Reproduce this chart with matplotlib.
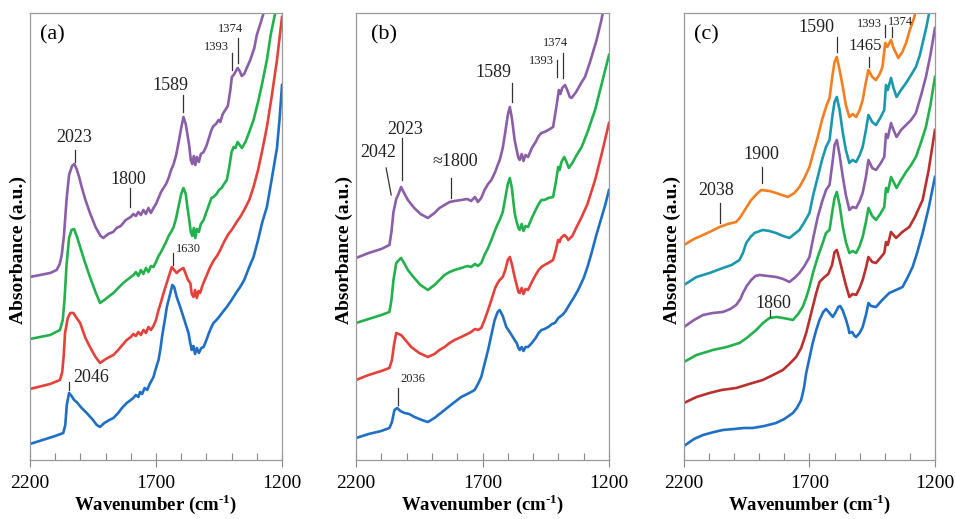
import numpy as np
import matplotlib
matplotlib.use("Agg")
import matplotlib.pyplot as plt

plt.rcParams['font.family'] = ['Liberation Serif', 'DejaVu Serif']
plt.rcParams['mathtext.fontset'] = 'custom'
plt.rcParams['mathtext.rm'] = 'Liberation Serif'
plt.rcParams['mathtext.bf'] = 'Liberation Serif:bold'

# colours
BLUE = '#1f6fc5'
RED = '#e5413b'
GREEN = '#22b14c'
PURPLE = '#8b5ea8'
ORANGE = '#f47f20'
TEAL = '#1b98ad'
DARKRED = '#b8312f'

# ---- panel (a) : (wavenumber, absorbance a.u.)
a_blue = [(2200,16),(2150,20),(2100,24),(2068,27),(2060,35),(2054,55),(2045,67),(2035,64),(2025,60),(2015,58),
          (1995,52),(1975,47),(1950,40),(1935,35),(1922,33),(1905,37),(1885,40),(1869,42),(1850,47),(1835,52),
          (1816,57),(1800,60),(1790,62),(1780,65),(1770,63),(1763,68),(1755,66),(1745,72),(1735,70),(1725,76),
          (1710,83),(1700,92),(1690,100),(1683,110),(1675,125),(1665,140),(1657,153),(1645,165),(1635,175),
          (1628,173),(1618,163),(1604,153),(1590,142),(1580,134),(1571,127),(1565,118),(1558,110),(1552,114),
          (1545,106),(1538,112),(1530,107),(1520,112),(1511,113),(1500,120),(1490,127),(1480,133),(1472,137),
          (1460,140),(1450,143),(1435,148),(1419,153),(1400,160),(1380,168),(1366,173),(1350,180),(1330,193),
          (1313,203),(1295,220),(1278,238),(1260,253),(1240,282),(1220,312),(1210,340),(1200,375)]
a_red = [(2200,71),(2120,76),(2081,80),(2072,88),(2066,105),(2061,127),(2050,142),(2040,147),(2028,147),(2015,142),
         (2001,137),(1980,122),(1962,113),(1940,103),(1922,97),(1905,100),(1885,103),(1869,105),(1850,110),
         (1830,116),(1816,120),(1800,123),(1790,126),(1780,124),(1770,128),(1760,125),(1750,130),(1740,127),
         (1730,133),(1720,130),(1710,134),(1700,140),(1690,150),(1680,158),(1670,167),(1660,175),(1650,183),
         (1637,193),(1628,190),(1618,187),(1605,190),(1591,192),(1582,186),(1573,180),(1564,177),(1558,166),
         (1551,163),(1545,170),(1538,162),(1531,169),(1525,167),(1515,175),(1500,184),(1485,193),(1470,200),
         (1458,204),(1445,210),(1430,218),(1415,225),(1400,230),(1392,233),(1380,238),(1366,243),(1350,250),
         (1330,260),(1313,273),(1295,290),(1278,310),(1260,333),(1240,365),(1220,400),(1200,443)]
a_green = [(2200,121),(2120,125),(2081,130),(2070,140),(2063,160),(2055,195),(2045,222),(2035,230),(2025,231),
           (2012,222),(2001,213),(1985,200),(1962,183),(1940,168),(1922,157),(1905,160),(1885,164),(1869,167),
           (1850,172),(1830,177),(1810,181),(1789,185),(1780,188),(1770,184),(1760,190),(1750,186),(1740,192),
           (1730,188),(1720,194),(1710,193),(1700,198),(1690,204),(1680,208),(1670,213),(1660,218),(1650,224),
           (1640,228),(1630,233),(1620,242),(1611,253),(1600,266),(1591,272),(1582,266),(1575,252),(1568,240),
           (1562,228),(1556,224),(1550,232),(1544,222),(1538,231),(1530,228),(1522,236),(1511,240),(1500,248),
           (1490,255),(1480,262),(1472,263),(1460,266),(1450,270),(1440,272),(1430,276),(1419,280),(1410,292),
           (1400,308),(1392,313),(1385,312),(1376,318),(1368,315),(1359,312),(1345,318),(1330,328),(1313,340),
           (1295,358),(1280,375),(1260,400),(1245,425),(1227,447),(1220,460)]
a_purple = [(2200,183),(2120,187),(2094,190),(2082,196),(2074,205),(2065,225),(2055,260),(2045,285),(2033,294),
            (2024,296),(2015,291),(2005,283),(1995,273),(1980,260),(1962,247),(1940,233),(1920,224),(1909,222),
            (1890,226),(1870,228),(1856,232),(1840,234),(1820,240),(1800,243),(1790,246),(1780,244),(1770,248),
            (1760,245),(1750,250),(1740,246),(1730,252),(1720,247),(1710,252),(1700,256),(1690,262),(1680,268),
            (1670,272),(1660,276),(1650,282),(1640,290),(1630,296),(1620,305),(1610,318),(1600,332),(1591,343),
            (1582,336),(1575,325),(1568,314),(1562,300),(1556,296),(1550,304),(1544,295),(1538,303),(1530,298),
            (1522,306),(1511,308),(1500,314),(1490,322),(1480,330),(1472,334),(1462,336),(1452,340),(1445,338),
            (1435,346),(1425,350),(1415,354),(1405,370),(1399,383),(1392,385),(1385,388),(1376,392),(1368,389),
            (1360,384),(1350,386),(1340,392),(1326,400),(1310,412),(1300,425),(1285,437),(1273,447),(1265,460)]

# ---- panel (b)
b_blue = [(2200,22),(2150,26),(2100,29),(2068,32),(2058,38),(2048,50),(2037,52),(2025,49),(2008,47),(1990,46),
          (1969,43),(1940,40),(1916,38),(1890,42),(1870,46),(1850,50),(1830,54),(1810,58),(1784,63),(1760,66),
          (1745,68),(1731,70),(1718,76),(1705,83),(1692,96),(1678,110),(1665,125),(1652,140),(1640,148),(1632,150),
          (1620,144),(1606,133),(1590,127),(1573,120),(1565,117),(1558,112),(1553,110),(1545,113),(1538,109),
          (1530,113),(1520,113),(1505,117),(1490,122),(1478,127),(1467,130),(1455,131),(1440,133),(1425,136),
          (1414,137),(1400,142),(1385,145),(1374,148),(1355,156),(1340,162),(1322,170),(1300,182),(1285,193),
          (1269,207),(1250,225),(1229,243),(1215,255),(1200,270)]
b_red = [(2200,80),(2150,85),(2100,89),(2068,92),(2058,100),(2050,115),(2041,127),(2032,126),(2022,125),(2005,120),
         (1982,113),(1950,107),(1916,103),(1890,106),(1870,110),(1850,113),(1830,117),(1810,120),(1784,123),
         (1760,126),(1745,128),(1730,131),(1718,130),(1705,132),(1692,140),(1678,150),(1665,160),(1650,172),
         (1640,177),(1632,180),(1620,183),(1610,190),(1600,200),(1592,203),(1584,196),(1573,183),(1565,175),
         (1558,168),(1553,167),(1545,172),(1538,166),(1530,171),(1520,170),(1505,178),(1490,185),(1478,190),
         (1467,193),(1455,195),(1440,197),(1421,200),(1410,210),(1401,220),(1395,218),(1390,222),(1377,225),
         (1368,223),(1361,220),(1345,224),(1330,232),(1308,243),(1285,256),(1255,280),(1230,305),(1200,337)]
b_green = [(2200,137),(2150,141),(2100,145),(2068,148),(2060,160),(2052,180),(2041,197),(2030,200),(2022,202),
           (2010,197),(1995,190),(1970,182),(1945,175),(1916,170),(1890,175),(1870,180),(1850,185),(1830,188),
           (1810,190),(1784,192),(1760,194),(1745,193),(1730,196),(1718,194),(1705,197),(1692,205),(1678,212),
           (1665,220),(1650,230),(1640,236),(1632,240),(1620,248),(1610,262),(1600,276),(1592,282),(1584,272),
           (1573,247),(1565,238),(1558,232),(1553,230),(1545,236),(1538,229),(1530,234),(1520,233),(1505,242),
           (1490,250),(1478,256),(1467,260),(1455,260),(1440,262),(1421,263),(1410,278),(1401,293),(1395,290),
           (1388,298),(1377,303),(1368,298),(1359,292),(1345,297),(1330,304),(1308,313),(1285,328),(1255,350),
           (1230,375),(1200,405)]
b_purple = [(2200,202),(2150,207),(2100,211),(2068,215),(2060,228),(2052,248),(2041,261),(2032,266),(2022,273),
            (2010,267),(1995,260),(1970,252),(1945,246),(1916,242),(1890,247),(1870,252),(1850,255),(1830,258),
            (1810,259),(1784,260),(1760,261),(1745,259),(1730,263),(1718,258),(1705,262),(1692,270),(1678,276),
            (1665,280),(1650,288),(1640,295),(1632,300),(1620,312),(1610,328),(1600,345),(1592,353),(1584,342),
            (1573,320),(1565,310),(1558,302),(1553,300),(1545,306),(1538,299),(1530,305),(1520,303),(1505,312),
            (1490,318),(1478,324),(1467,327),(1455,328),(1440,330),(1421,333),(1410,350),(1398,370),(1392,366),
            (1385,372),(1374,375),(1365,370),(1355,363),(1348,362),(1330,368),(1310,377),(1295,383),(1275,398),
            (1249,420),(1230,440),(1215,460)]

# ---- panel (c)
c_blue = [(2200,14),(2160,21),(2124,25),(2080,28),(2045,30),(2000,31),(1960,32),(1925,32),(1880,34),(1833,37),
          (1800,41),(1766,47),(1750,52),(1733,60),(1722,72),(1713,87),(1700,102),(1687,117),(1673,130),(1660,140),
          (1645,148),(1634,151),(1620,147),(1607,143),(1595,148),(1585,153),(1578,154),(1568,150),(1554,140),
          (1545,132),(1541,127),(1530,128),(1520,124),(1514,123),(1500,127),(1488,133),(1475,145),(1465,157),
          (1455,154),(1435,153),(1410,160),(1382,167),(1355,170),(1329,173),(1310,182),(1289,193),(1270,208),
          (1249,227),(1225,252),(1200,283)]
c_darkred = [(2200,57),(2150,63),(2098,67),(2050,70),(1992,72),(1940,76),(1886,80),(1845,85),(1806,90),(1780,96),
             (1753,103),(1733,112),(1713,127),(1700,140),(1690,150),(1673,167),(1660,178),(1640,183),(1625,186),
             (1610,195),(1600,208),(1591,210),(1580,200),(1567,187),(1555,175),(1541,163),(1528,166),(1514,165),
             (1500,172),(1488,180),(1475,192),(1465,203),(1450,198),(1435,197),(1418,202),(1402,207),(1395,218),
             (1388,215),(1375,228),(1365,225),(1355,222),(1330,228),(1302,233),(1280,243),(1249,260),(1225,290),
             (1200,330)]
c_green = [(2200,98),(2150,105),(2085,110),(2030,113),(1979,117),(1950,122),(1912,130),(1885,137),(1859,142),
           (1830,143),(1806,142),(1785,141),(1766,140),(1745,146),(1727,153),(1712,163),(1700,173),(1685,188),
           (1667,203),(1650,215),(1634,227),(1620,230),(1608,250),(1600,262),(1591,268),(1580,255),(1567,233),
           (1555,218),(1541,207),(1528,209),(1514,207),(1500,214),(1488,223),(1475,238),(1465,252),(1450,244),
           (1435,240),(1418,246),(1402,253),(1395,272),(1388,268),(1375,283),(1365,278),(1353,272),(1335,280),
           (1315,288),(1295,295),(1276,303),(1255,318),(1236,333),(1218,355),(1200,383)]
c_purple = [(2200,133),(2160,140),(2124,145),(2085,147),(2045,148),(2015,151),(1992,155),(1975,161),(1965,167),
            (1950,174),(1932,180),(1915,184),(1899,185),(1866,184),(1833,183),(1805,181),(1780,178),(1760,182),
            (1740,187),(1720,194),(1700,203),(1685,222),(1667,243),(1650,258),(1634,270),(1620,275),(1608,298),
            (1600,315),(1591,320),(1580,305),(1567,283),(1555,265),(1541,250),(1528,253),(1514,252),(1500,259),
            (1488,267),(1475,283),(1465,300),(1450,292),(1435,290),(1418,296),(1402,303),(1395,326),(1388,322),
            (1375,337),(1365,330),(1353,323),(1335,330),(1315,335),(1295,340),(1276,347),(1255,365),(1236,383),
            (1218,405),(1200,432)]
c_teal = [(2200,175),(2150,183),(2098,187),(2045,192),(2010,195),(1979,200),(1965,207),(1952,217),(1935,223),
          (1919,227),(1886,230),(1860,229),(1833,227),(1805,224),(1780,222),(1760,226),(1740,230),(1720,238),
          (1700,247),(1685,265),(1667,283),(1650,300),(1634,313),(1620,320),(1608,345),(1600,358),(1591,363),
          (1580,350),(1567,327),(1555,310),(1541,297),(1528,300),(1514,298),(1500,305),(1488,313),(1475,330),
          (1465,345),(1450,338),(1435,335),(1418,342),(1402,350),(1395,375),(1388,370),(1375,382),(1365,372),
          (1353,363),(1335,370),(1315,377),(1295,385),(1276,393),(1260,405),(1249,417),(1235,432),(1223,447),
          (1215,460)]
c_orange = [(2200,215),(2160,221),(2124,225),(2090,229),(2058,233),(2025,236),(1992,238),(1978,242),(1965,247),
            (1950,253),(1932,260),(1910,266),(1892,270),(1860,269),(1833,267),(1810,265),(1786,263),(1760,267),
            (1740,273),(1720,282),(1700,293),(1685,307),(1667,323),(1650,340),(1634,353),(1620,362),(1608,385),
            (1600,398),(1591,403),(1580,390),(1567,373),(1555,355),(1541,343),(1528,346),(1514,343),(1500,350),
            (1488,360),(1475,378),(1465,390),(1450,383),(1435,380),(1420,386),(1409,393),(1398,417),(1390,413),
            (1375,420),(1365,412),(1346,402),(1330,408),(1315,417),(1300,430),(1282,443),(1270,460)]

# peak marks: (text, text_x, text_y, line_x, line_y0, line_y1, fontsize)
a_marks = [('2023', 2025, 322, 2020, 298, 310, 13), ('1800', 1809, 280, 1803, 253, 272, 13),
           ('1589', 1641, 374, 1591, 348, 365, 13), ('1393', 1461, 413, 1399, 390, 407, 9),
           ('1374', 1405, 431, 1376, 397, 422, 9), ('1630', 1571, 211, 1632, 195, 207, 9),
           ('2046', 1959, 82, 2045, 70, 78, 13)]
b_marks = [('2023', 2006, 330, 2019, 280, 322, 13), ('\u22481800', 1808, 298, 1824, 262, 282, 13),
           ('1589', 1658, 387, 1583, 358, 377, 13), ('1393', 1467, 399, 1405, 383, 400, 9),
           ('1374', 1411, 417, 1381, 382, 407, 9), ('2036', 1975, 81, 2035, 55, 72, 9)]
c_marks = [('2038', 2071, 269, 2058, 237, 257, 13), ('1900', 1892, 305, 1888, 277, 293, 13),
           ('1860', 1842, 156, 1856, 143, 150, 13), ('1590', 1671, 432, 1590, 408, 423, 13),
           ('1465', 1477, 414, 1461, 393, 403, 12), ('1393', 1461, 436, 1399, 423, 435, 9),
           ('1374', 1338, 438, 1372, 423, 433, 9)]

panels = [
    ('(a)', [0.0314, 0.1137, 0.2639, 0.8613], [(a_blue, BLUE), (a_red, RED), (a_green, GREEN), (a_purple, PURPLE)], a_marks),
    ('(b)', [0.3728, 0.1137, 0.2649, 0.8613], [(b_blue, BLUE), (b_red, RED), (b_green, GREEN), (b_purple, PURPLE)], b_marks),
    ('(c)', [0.7162, 0.1137, 0.2628, 0.8613], [(c_blue, BLUE), (c_darkred, DARKRED), (c_green, GREEN),
                                               (c_purple, PURPLE), (c_teal, TEAL), (c_orange, ORANGE)], c_marks),
]

fig = plt.figure(figsize=(9.55, 5.19), dpi=100)

for lab, rect, curves, marks in panels:
    ax = fig.add_axes(rect)
    for pts, col in curves:
        pts = np.array(pts, dtype=float)
        ax.plot(pts[:, 0], pts[:, 1], color=col, lw=1.9, solid_joinstyle='round')
    for txt, tx, ty, lx, y0, y1, fs in marks:
        ax.plot([lx, lx], [y0, y1], color='#333333', lw=0.9)
        ax.text(tx, ty, txt, ha='center', va='center', fontsize=fs, color='#222222')
    if lab == '(b)':
        # slanted pointer for the 2042 shoulder
        ax.plot([2081, 2061], [292, 265], color='#333333', lw=0.9)
        ax.text(2114, 307, '2042', ha='center', va='center', fontsize=13, color='#222222')
    ax.text(0.09 if lab != '(b)' else 0.11, 0.95, lab, transform=ax.transAxes,
            ha='center', va='center', fontsize=16)

    ax.set_xlim(2200, 1200)
    ax.set_ylim(0, 447)
    ax.set_xticks([2200, 1700, 1200])
    ax.set_xticks(np.arange(1300, 2200, 100), minor=True)
    ax.set_yticks([])
    ax.tick_params(axis='x', which='major', direction='inout', length=10, width=0.8,
                   color='#888888', labelsize=14, pad=6)
    ax.tick_params(axis='x', which='minor', direction='in', length=5, width=0.8, color='#888888')
    for s in ax.spines.values():
        s.set_color('#999999')
        s.set_linewidth(0.9)
    ax.set_xlabel(r'Wavenumber (cm$^{\mathbf{\text{-}1}}$)', fontsize=13.5, fontweight='bold', labelpad=0)
    ax.set_ylabel('Absorbance (a.u.)', fontsize=14, fontweight='bold')
    ax.yaxis.label.set_verticalalignment('center')
    ax.yaxis.set_label_coords(-0.047, 0.47)

fig.savefig('out.png', dpi=100)
